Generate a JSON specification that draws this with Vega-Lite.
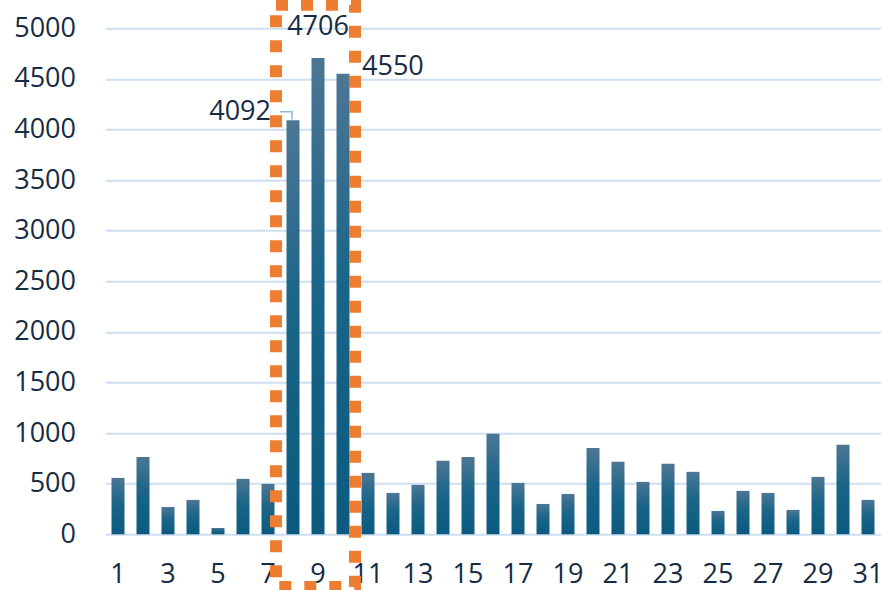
{
  "$schema": "https://vega.github.io/schema/vega-lite/v6.json",
  "width": 775,
  "height": 506,
  "autosize": {"type": "none"},
  "padding": {"left": 105.5, "top": 28.3, "right": 3.5, "bottom": 55.7},
  "background": "white",
  "config": {
    "view": {"stroke": null},
    "font": "Open Sans",
    "axis": {"labelFont": "Open Sans", "labelFontSize": 27, "labelColor": "#172b42"}
  },
  "datasets": {
    "days": [
      {"day": 1, "value": 557}, {"day": 2, "value": 765}, {"day": 3, "value": 270},
      {"day": 4, "value": 340}, {"day": 5, "value": 62}, {"day": 6, "value": 548},
      {"day": 7, "value": 498}, {"day": 8, "value": 4092}, {"day": 9, "value": 4706},
      {"day": 10, "value": 4550}, {"day": 11, "value": 607}, {"day": 12, "value": 409},
      {"day": 13, "value": 488}, {"day": 14, "value": 726}, {"day": 15, "value": 765},
      {"day": 16, "value": 993}, {"day": 17, "value": 508}, {"day": 18, "value": 300},
      {"day": 19, "value": 399}, {"day": 20, "value": 854}, {"day": 21, "value": 716},
      {"day": 22, "value": 518}, {"day": 23, "value": 696}, {"day": 24, "value": 617},
      {"day": 25, "value": 231}, {"day": 26, "value": 429}, {"day": 27, "value": 409},
      {"day": 28, "value": 241}, {"day": 29, "value": 567}, {"day": 30, "value": 884},
      {"day": 31, "value": 340}
    ],
    "box": [{"x": 7.32, "x2": 10.48, "y": 5233, "y2": -521}],
    "leader": [
      {"x": 7.48, "y": 4175, "o": 1},
      {"x": 7.96, "y": 4175, "o": 2},
      {"x": 7.96, "y": 4100, "o": 3}
    ]
  },
  "layer": [
    {
      "data": {"name": "days"},
      "layer": [
        {
          "mark": {
            "type": "bar",
            "color": {
              "gradient": "linear", "x1": 0, "y1": 0, "x2": 0, "y2": 1,
              "stops": [
                {"offset": 0, "color": "#4d7694"},
                {"offset": 0.45, "color": "#1a6589"},
                {"offset": 1, "color": "#0c5a80"}
              ]
            }
          },
          "encoding": {
            "x": {
              "field": "day", "type": "ordinal", "sort": "ascending",
              "scale": {"paddingInner": 0.48, "paddingOuter": 0.24},
              "axis": {
                "title": null, "domain": false, "ticks": false, "labelAngle": 0,
                "labelPadding": 27, "labelOverlap": false,
                "labelExpr": "datum.value % 2 == 1 ? datum.label : ''"
              }
            },
            "y": {
              "field": "value", "type": "quantitative",
              "scale": {"domain": [0, 5000], "nice": false},
              "axis": {
                "title": null, "domain": false, "ticks": false, "format": "d",
                "values": [0, 500, 1000, 1500, 2000, 2500, 3000, 3500, 4000, 4500, 5000],
                "grid": true, "gridColor": "#cddff1", "gridWidth": 2,
                "labelPadding": 30
              }
            }
          }
        },
        {
          "transform": [{"filter": "datum.day == 8"}],
          "mark": {"type": "text", "align": "right", "baseline": "middle", "dx": -22, "dy": -8, "fontSize": 27, "color": "#172b42"},
          "encoding": {
            "x": {"field": "day", "type": "ordinal"},
            "y": {"field": "value", "type": "quantitative"},
            "text": {"field": "value"}
          }
        },
        {
          "transform": [{"filter": "datum.day == 9"}],
          "mark": {"type": "text", "align": "center", "baseline": "middle", "dy": -31, "fontSize": 27, "color": "#172b42"},
          "encoding": {
            "x": {"field": "day", "type": "ordinal"},
            "y": {"field": "value", "type": "quantitative"},
            "text": {"field": "value"}
          }
        },
        {
          "transform": [{"filter": "datum.day == 10"}],
          "mark": {"type": "text", "align": "left", "baseline": "middle", "dx": 19, "dy": -7, "fontSize": 27, "color": "#172b42"},
          "encoding": {
            "x": {"field": "day", "type": "ordinal"},
            "y": {"field": "value", "type": "quantitative"},
            "text": {"field": "value"}
          }
        }
      ]
    },
    {
      "layer": [
        {
          "data": {"name": "leader"},
          "mark": {"type": "line", "color": "#8fb8e0", "strokeWidth": 1.5},
          "encoding": {
            "x": {"field": "x", "type": "quantitative", "scale": {"domain": [0.5, 31.5], "nice": false, "zero": false}, "axis": null},
            "y": {"field": "y", "type": "quantitative"},
            "order": {"field": "o"}
          }
        },
        {
          "data": {"name": "box"},
          "mark": {"type": "rect", "filled": false, "color": "#ed7d31", "strokeWidth": 12, "strokeDash": [12, 13], "clip": false},
          "encoding": {
            "x": {"field": "x", "type": "quantitative", "scale": {"domain": [0.5, 31.5], "nice": false, "zero": false}, "axis": null},
            "x2": {"field": "x2"},
            "y": {"field": "y", "type": "quantitative"},
            "y2": {"field": "y2"}
          }
        }
      ]
    }
  ],
  "resolve": {"scale": {"x": "independent"}}
}
